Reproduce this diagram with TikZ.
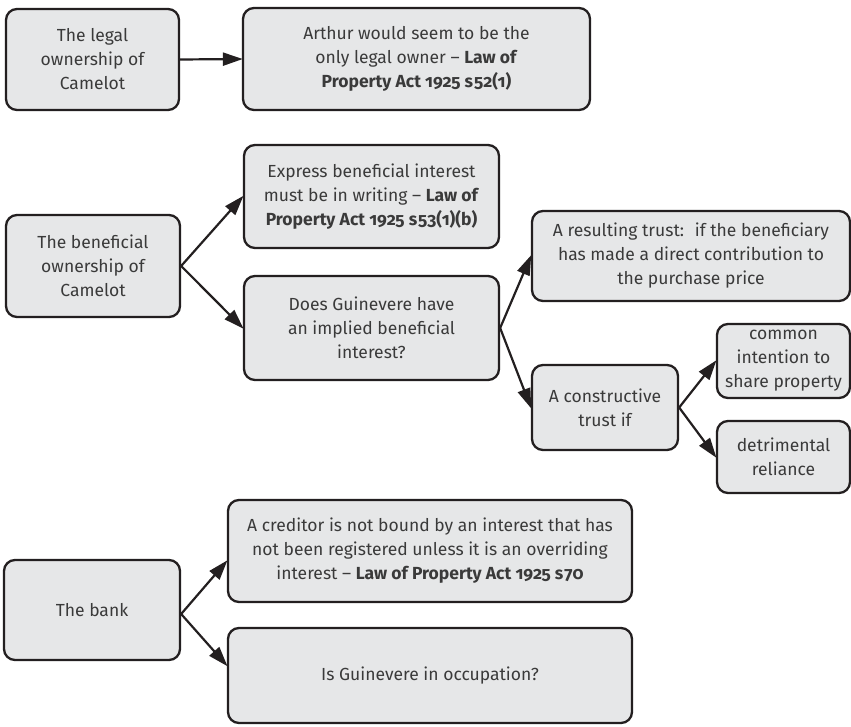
\documentclass[tikz,border=0pt]{standalone}
\usepackage{fontspec}
\setmainfont{Fira Sans}[Numbers=OldStyle]
\usetikzlibrary{arrows.meta}
\definecolor{boxfill}{HTML}{E6E7E8}
\definecolor{ink}{HTML}{231F20}
\definecolor{txt}{HTML}{3A3A3A}
\tikzset{
  box/.style={draw=ink, fill=boxfill, line width=2.3pt, rounded corners=11pt,
    inner sep=0pt, align=center, text=txt,
    font=\fontsize{17.5}{24}\selectfont},
  link/.style={draw=ink, line width=2.2pt,
    -{Triangle[length=20pt,width=13pt]}, shorten >=-1pt}
}
\begin{document}
\begin{tikzpicture}[x=1pt,y=-1pt]
\useasboundingbox (0,0) rectangle (851,726);

% legal ownership
\node[box, minimum width=173pt, minimum height=101pt] (b1) at (92.5,59.5)
  {The legal\\ownership of\\Camelot};
\node[box, minimum width=347pt, minimum height=102pt] (b2) at (416.5,59)
  {Arthur would seem to be the\\only legal owner -- \textbf{Law of}\\\textbf{Property Act 1925 s\kern1pt52(1)}};

% beneficial ownership
\node[box, minimum width=174pt, minimum height=102pt] (b3) at (93,266)
  {The beneficial\\ownership of\\Camelot};
\node[box, minimum width=255pt, minimum height=103pt] (b4) at (371.5,196.5)
  {Express beneficial interest\\must be in writing -- \textbf{Law of}\\\textbf{Property Act 1925 s\kern1pt53(1)(b)}};
\node[box, minimum width=255pt, minimum height=104pt] (b5) at (371.5,328)
  {Does Guinevere have\\an implied beneficial\\interest?};
\node[box, minimum width=318pt, minimum height=90pt] (b6) at (691,256)
  {A resulting trust:~ if the beneficiary\\has made a direct contribution to\\the purchase price};
\node[box, minimum width=146pt, minimum height=85pt] (b7) at (605,407.5)
  {A constructive\\trust if};
\node[box, minimum width=133pt, minimum height=74pt] (b8) at (783.5,361)
  {common\\intention to\\share property};
\node[box, minimum width=133pt, minimum height=72pt] (b9) at (783.5,457)
  {detrimental\\reliance};

% the bank
\node[box, minimum width=176pt, minimum height=100pt] (b10) at (92,610)
  {The bank};
\node[box, minimum width=404pt, minimum height=102pt] (b11) at (430,551)
  {A creditor is not bound by an interest that has\\not been registered unless it is an overriding\\interest -- \textbf{Law of Property Act 1925 s\kern1pt70}};
\node[box, minimum width=404pt, minimum height=95pt] (b12) at (430,675.5)
  {Is Guinevere in occupation?};

% connectors
\draw[link] (b1.east) -- (b2.west);
\draw[link] (b3.east) -- (b4.west);
\draw[link] (b3.east) -- (b5.west);
\draw[link] (b5.east) -- (b6.west);
\draw[link] (b5.east) -- (b7.west);
\draw[link] (b7.east) -- (b8.west);
\draw[link] (b7.east) -- (b9.west);
\draw[link] ([yshift=-4pt]b10.east) -- ([yshift=-10pt]b11.west);
\draw[link] ([yshift=-4pt]b10.east) -- ([yshift=10pt]b12.west);
\end{tikzpicture}
\end{document}
